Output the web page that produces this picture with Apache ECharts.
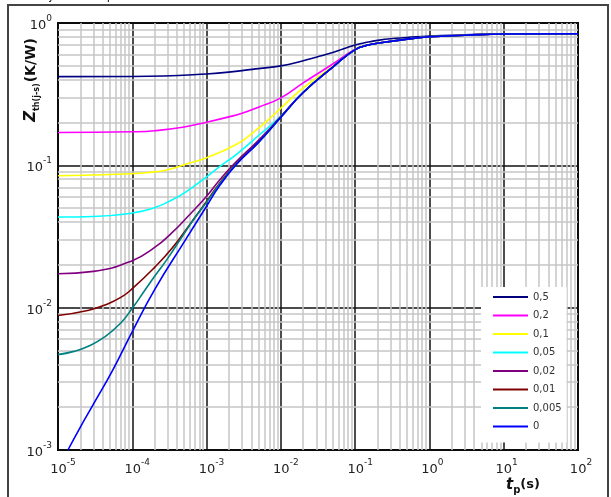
<!DOCTYPE html>
<html>
<head>
<meta charset="utf-8">
<script src="https://cdn.jsdelivr.net/npm/echarts@6/dist/echarts.min.js"></script>
<style>
html,body{margin:0;padding:0;background:#fff;}
#chart{width:611px;height:497px;}
</style>
</head>
<body>
<div id="chart"></div>
<script>
// ---- data (t_p in s, Z_th in K/W) ----
const seriesNames = ['0,5', '0,2', '0,1', '0,05', '0,02', '0,01', '0,005', '0'];
const seriesColors = ['#000080', '#ff00ff', '#ffff00', '#00ffff', '#800080', '#800000', '#008080', '#0000ff'];

const tD050 = [1e-5, 1e-4, 1e-3, 3e-3, 5e-3, 1e-2, 2e-2, 3e-2, 5e-2, 7e-2, 0.1, 0.15, 0.2, 0.3, 0.5, 1, 3, 10, 100];
const zD050 = [0.42, 0.421, 0.438, 0.463, 0.478, 0.50, 0.543, 0.575, 0.62, 0.66, 0.70, 0.735, 0.755, 0.775, 0.79, 0.81, 0.825, 0.838, 0.84];

const tD020 = [1e-5, 1e-4, 2e-4, 5e-4, 1e-3, 2e-3, 3e-3, 5e-3, 1e-2, 2e-2, 5e-2, 0.1, 0.15, 0.2, 0.5, 1, 3, 10, 100];
const zD020 = [0.17, 0.172, 0.175, 0.186, 0.201, 0.219, 0.232, 0.256, 0.298, 0.38, 0.515, 0.655, 0.70, 0.722, 0.77, 0.80, 0.82, 0.837, 0.84];

const tD010 = [1e-5, 1e-4, 2e-4, 3e-4, 5e-4, 1e-3, 2.5e-3, 4.3e-3, 7e-3, 1e-2, 2e-2, 5e-2, 0.1, 0.15, 0.2, 0.5, 1, 3, 10, 100];
const zD010 = [0.0844, 0.0872, 0.090, 0.093, 0.101, 0.113, 0.14, 0.171, 0.212, 0.252, 0.35, 0.495, 0.653, 0.70, 0.72, 0.77, 0.80, 0.82, 0.837, 0.84];

const tD005 = [1e-5, 3e-5, 1e-4, 1.9e-4, 3.4e-4, 5.4e-4, 1e-3, 1.5e-3, 2.5e-3, 5e-3, 1e-2, 2e-2, 5e-2, 0.1, 0.15, 0.2, 0.5, 1, 3, 10, 100];
const zD005 = [0.0433, 0.0437, 0.0462, 0.050, 0.057, 0.0657, 0.083, 0.098, 0.119, 0.162, 0.222, 0.327, 0.49, 0.65, 0.70, 0.72, 0.77, 0.80, 0.82, 0.837, 0.84];

const tD002 = [1e-5, 3e-5, 1e-4, 2e-4, 3.4e-4, 5.6e-4, 1e-3, 1.5e-3, 2.5e-3, 5e-3, 1e-2, 2e-2, 5e-2, 0.1, 0.15, 0.2, 0.5, 1, 3, 10, 100];
const zD002 = [0.0173, 0.018, 0.0214, 0.0265, 0.0335, 0.0437, 0.0607, 0.079, 0.106, 0.15, 0.22, 0.326, 0.49, 0.65, 0.70, 0.72, 0.77, 0.80, 0.82, 0.837, 0.84];

const tD001 = [1e-5, 2.6e-5, 4.2e-5, 7e-5, 1e-4, 2e-4, 3.4e-4, 5.6e-4, 1e-3, 1.5e-3, 2.5e-3, 5e-3, 1e-2, 2e-2, 5e-2, 0.1, 0.15, 0.2, 0.5, 1, 3, 10, 100];
const zD001 = [0.0088, 0.0096, 0.0104, 0.0118, 0.0136, 0.0192, 0.026, 0.0368, 0.0557, 0.075, 0.103, 0.146, 0.219, 0.325, 0.49, 0.65, 0.70, 0.72, 0.77, 0.80, 0.82, 0.837, 0.84];

const tD0005 = [1e-5, 1.64e-5, 2.56e-5, 4.2e-5, 7e-5, 1e-4, 1.5e-4, 2e-4, 3e-4, 5e-4, 7e-4, 1e-3, 1.5e-3, 2.5e-3, 5e-3, 1e-2, 2e-2, 5e-2, 0.1, 0.15, 0.2, 0.5, 1, 3, 10, 100];
const zD0005 = [0.00468, 0.00493, 0.00535, 0.0062, 0.0078, 0.0099, 0.0134, 0.0166, 0.0222, 0.0332, 0.043, 0.055, 0.074, 0.102, 0.145, 0.218, 0.325, 0.49, 0.65, 0.70, 0.72, 0.77, 0.80, 0.82, 0.837, 0.84];

const tD0 = [1.36e-5, 2e-5, 3e-5, 5.5e-5, 1e-4, 2e-4, 5e-4, 1e-3, 1.5e-3, 2.5e-3, 5e-3, 1e-2, 2e-2, 5e-2, 0.1, 0.15, 0.2, 0.5, 1, 3, 10, 100];
const zD0 = [0.001, 0.00145, 0.0021, 0.00367, 0.0068, 0.0134, 0.029, 0.0516, 0.072, 0.101, 0.145, 0.218, 0.325, 0.49, 0.65, 0.70, 0.72, 0.77, 0.80, 0.82, 0.837, 0.84];

const xMin = 1e-5, xMax = 100;
const yMin = 1e-3, yMax = 1;

const tArrays = [tD050, tD020, tD010, tD005, tD002, tD001, tD0005, tD0];
const zArrays = [zD050, zD020, zD010, zD005, zD002, zD001, zD0005, zD0];

// minor grid values (2..9 within each decade)
function minorValues(lo, hi) {
  const out = [];
  for (let e = Math.round(Math.log10(lo)); e < Math.round(Math.log10(hi)); e++) {
    for (let k = 2; k <= 9; k++) out.push(k * Math.pow(10, e));
  }
  return out;
}
const minorGrid = minorValues(xMin, xMax).map(v => ({ coords: [[v, yMin], [v, yMax]] }))
  .concat(minorValues(yMin, yMax).map(v => ({ coords: [[xMin, v], [xMax, v]] })));

const FONT = 'DejaVu Sans';

function powLabel(v) {
  const e = Math.round(Math.log10(v));
  return '{b|10}{s|' + e + '}';
}
function xPowLabel(v) {
  const e = Math.round(Math.log10(v));
  return (e < 0 ? '{p|}' : '{q|}') + '{b|10}{s|' + e + '}';
}
const labelRich = {
  b: { fontSize: 13, fontFamily: FONT, color: '#222', lineHeight: 18, verticalAlign: 'bottom' },
  s: { fontSize: 9, fontFamily: FONT, color: '#222', verticalAlign: 'top', lineHeight: 12 },
  p: { width: 10 },
  q: { width: 6 }
};

const series = seriesNames.map((name, i) => ({
  name: name,
  type: 'line',
  data: tArrays[i].map((t, j) => [t, zArrays[i][j]]),
  showSymbol: false,
  symbol: 'none',
  smooth: 0.5,
  lineStyle: { color: seriesColors[i], width: 1.6 },
  itemStyle: { color: seriesColors[i] },
  z: 3,
  animation: false
}));

series.unshift({
  name: 'minor-grid',
  type: 'lines',
  coordinateSystem: 'cartesian2d',
  silent: true,
  z: 1,
  animation: false,
  lineStyle: { color: '#c6c6c6', width: 1.5, opacity: 1 },
  data: minorGrid
});

const chart = echarts.init(document.getElementById('chart'), null, { renderer: 'canvas' });
chart.setOption({
  animation: false,
  backgroundColor: '#fff',
  grid: {
    left: 58, top: 23, width: 520, height: 427,
    show: true, borderColor: '#000', borderWidth: 2, backgroundColor: '#fff'
  },
  xAxis: {
    type: 'log', logBase: 10, min: xMin, max: xMax,
    axisLine: { show: false },
    axisTick: { show: false },
    splitLine: { show: true, lineStyle: { color: '#111', width: 1.5 } },
    axisLabel: { formatter: xPowLabel, rich: labelRich, margin: 8 }
  },
  yAxis: {
    type: 'log', logBase: 10, min: yMin, max: yMax,
    axisLine: { show: false },
    axisTick: { show: false },
    splitLine: { show: true, lineStyle: { color: '#111', width: 1.5 } },
    axisLabel: { formatter: powLabel, rich: labelRich, margin: 6 }
  },
  legend: {
    data: seriesNames,
    orient: 'vertical',
    left: 481, top: 287,
    icon: 'rect',
    itemWidth: 35, itemHeight: 2,
    itemGap: 4.5,
    padding: [3, 5, 9, 12],
    backgroundColor: '#fff',
    selectedMode: false,
    textStyle: { fontSize: 10, fontFamily: FONT, color: '#333', lineHeight: 14 }
  },
  graphic: [
    {
      type: 'rect', silent: true, z: 100,
      shape: { x: 8, y: 5, width: 600, height: 520 },
      style: { fill: 'none', stroke: '#444', lineWidth: 2 }
    },
    {
      type: 'text', silent: true, z: 100,
      x: 24, y: -10,
      style: {
        text: 'Zth(j-s)  =  f(tp)',
        font: '12px "DejaVu Sans"', fill: '#222'
      }
    },
    {
      type: 'text', silent: true, z: 100,
      x: 31, y: 80, rotation: Math.PI / 2,
      style: {
        text: '{z|Z}{sub|th(j-s)}{u|(K/W)}',
        align: 'center', verticalAlign: 'middle',
        rich: {
          z: { fontSize: 15, fontWeight: 'bold', fontStyle: 'italic', fontFamily: FONT, fill: '#111', lineHeight: 20, verticalAlign: 'middle' },
          sub: { fontSize: 8, fontWeight: 'bold', fontFamily: FONT, fill: '#111', verticalAlign: 'bottom', lineHeight: 12 },
          u: { fontSize: 14, fontWeight: 'bold', fontFamily: FONT, fill: '#111', lineHeight: 20, verticalAlign: 'middle', padding: [0, 0, 0, 1] }
        }
      }
    },
    {
      type: 'text', silent: true, z: 100,
      x: 523, y: 485,
      style: {
        text: '{t|t}{sub|p}{u|(s)}',
        align: 'center', verticalAlign: 'middle',
        rich: {
          t: { fontSize: 15, fontWeight: 'bold', fontStyle: 'italic', fontFamily: FONT, fill: '#111', lineHeight: 20, verticalAlign: 'middle' },
          sub: { fontSize: 10, fontWeight: 'bold', fontFamily: FONT, fill: '#111', verticalAlign: 'bottom', lineHeight: 12 },
          u: { fontSize: 13, fontWeight: 'bold', fontFamily: FONT, fill: '#111', lineHeight: 20, verticalAlign: 'middle' }
        }
      }
    }
  ],
  series: series
});
</script>
</body>
</html>
